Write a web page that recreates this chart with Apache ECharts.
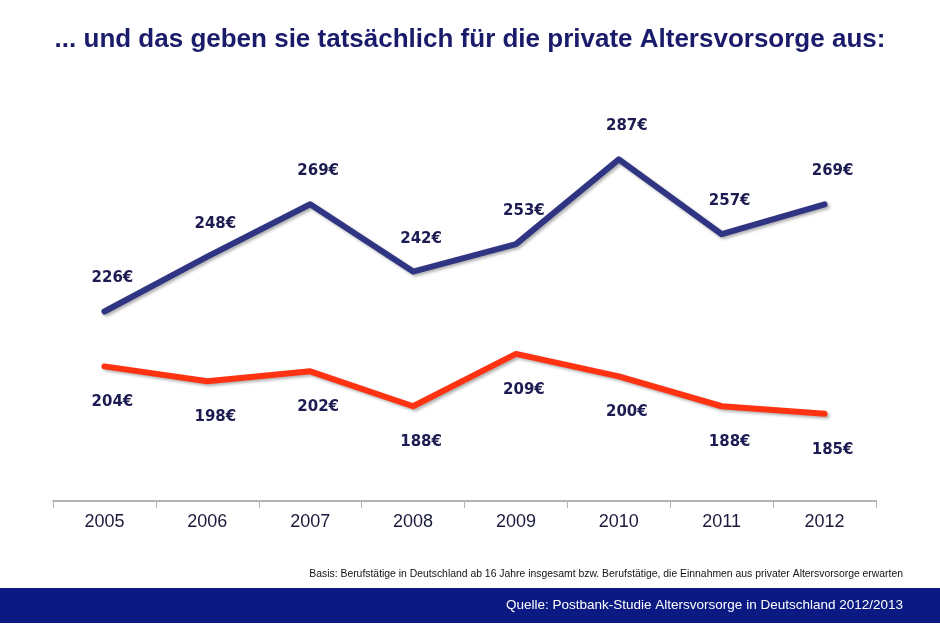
<!DOCTYPE html>
<html>
<head>
<meta charset="utf-8">
<script src="https://cdn.jsdelivr.net/npm/echarts@6/dist/echarts.min.js"></script>
<style>
  html, body { margin: 0; padding: 0; background: #fff; }
  #chart { width: 940px; height: 626px; }
</style>
</head>
<body>
<div id="chart"></div>
<script>
const years = ['2005', '2006', '2007', '2008', '2009', '2010', '2011', '2012'];
const gesamt = [226, 248, 269, 242, 253, 287, 257, 269];
const erwarten = [204, 198, 202, 188, 209, 200, 188, 185];

const font = 'Liberation Sans, Arial, sans-serif';
const labelColor = '#1c1c52';

const chart = echarts.init(document.getElementById('chart'));

function lineSeries(data, color, pos, dist) {
  return {
    type: 'line',
    data: data,
    symbol: 'circle',
    symbolSize: 1,
    itemStyle: { color: color },
    lineStyle: {
      color: color,
      width: 6,
      cap: 'round',
      join: 'round',
      shadowColor: 'rgba(0, 0, 0, 0.3)',
      shadowBlur: 3,
      shadowOffsetX: 2,
      shadowOffsetY: 2
    },
    label: {
      show: true,
      position: pos,
      distance: dist,
      offset: [8, 0],
      formatter: p => p.value + '€',
      color: labelColor,
      fontFamily: 'DejaVu Sans, Verdana, sans-serif',
      fontWeight: 'bold',
      fontSize: 15
    },
    emphasis: { disabled: true },
    animation: false
  };
}

const options = {
  backgroundColor: '#fff',
  title: {
    text: '... und das geben sie tatsächlich für die private Altersvorsorge aus:',
    left: 'center',
    top: 22,
    textStyle: {
      color: '#1b1b6b',
      fontFamily: font,
      fontWeight: 'bold',
      fontSize: 26
    }
  },
  grid: { left: 53, right: 64, top: 127, bottom: 125 },
  xAxis: {
    type: 'category',
    data: years,
    boundaryGap: true,
    axisLine: { lineStyle: { color: '#b4b4b4', width: 2 } },
    axisTick: { show: true, length: 7, lineStyle: { color: '#b4b4b4' } },
    axisLabel: { color: '#1a1a3c', fontFamily: font, fontSize: 18, margin: 12 }
  },
  yAxis: {
    type: 'value',
    min: 150,
    max: 300,
    show: false,
    splitLine: { show: false }
  },
  series: [
    lineSeries(gesamt, '#2f3582', 'top', 25),
    lineSeries(erwarten, '#ff3311', 'bottom', 28)
  ],
  graphic: [
    {
      type: 'rect',
      shape: { x: 0, y: 588, width: 940, height: 35 },
      style: { fill: '#0b1a82' }
    },
    {
      type: 'text',
      right: 37,
      top: 569,
      style: {
        text: 'Basis: Berufstätige in Deutschland ab 16 Jahre insgesamt bzw. Berufstätige, die Einnahmen aus privater Altersvorsorge erwarten',
        fill: '#111',
        font: '10.4px Liberation Sans, Arial, sans-serif'
      }
    },
    {
      type: 'text',
      right: 37,
      top: 598,
      style: {
        text: 'Quelle: Postbank-Studie Altersvorsorge in Deutschland 2012/2013',
        fill: '#fff',
        font: '13.5px Liberation Sans, Arial, sans-serif'
      }
    }
  ]
};

chart.setOption(options);
</script>
</body>
</html>
